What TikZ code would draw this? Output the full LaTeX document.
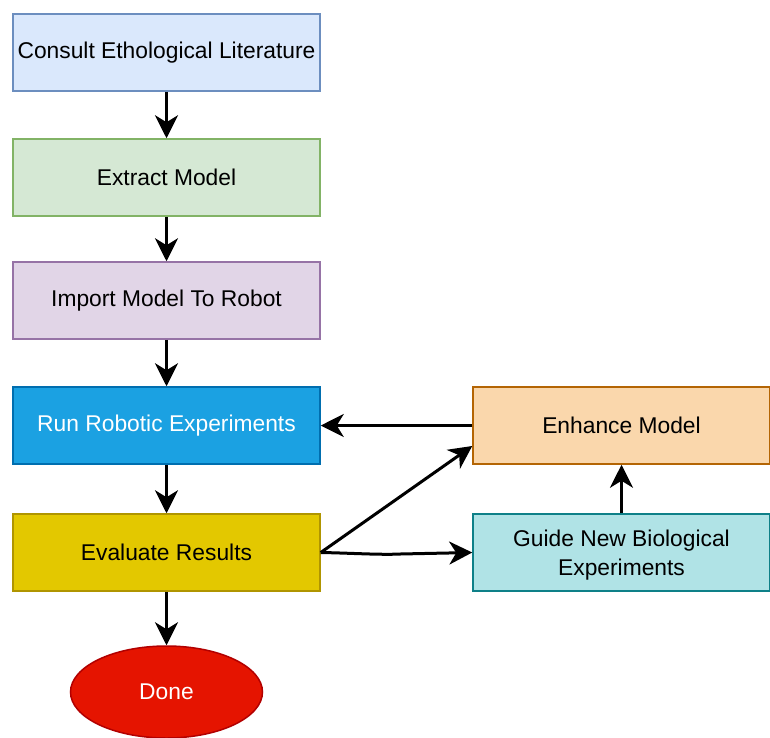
\documentclass[tikz,border=0pt]{standalone}
\usepackage{fontspec}
\setmainfont{Liberation Sans}
\usetikzlibrary{arrows.meta,shapes.geometric}
\definecolor{bluefill}{HTML}{DAE8FC}\definecolor{bluedraw}{HTML}{6C8EBF}
\definecolor{greenfill}{HTML}{D5E8D4}\definecolor{greendraw}{HTML}{82B366}
\definecolor{purplefill}{HTML}{E1D5E7}\definecolor{purpledraw}{HTML}{9673A6}
\definecolor{cyanfill}{HTML}{1BA1E2}\definecolor{cyandraw}{HTML}{006EAF}
\definecolor{yellowfill}{HTML}{E3C800}\definecolor{yellowdraw}{HTML}{B09500}
\definecolor{redfill}{HTML}{E51400}\definecolor{reddraw}{HTML}{B20000}
\definecolor{orangefill}{HTML}{FAD7AC}\definecolor{orangedraw}{HTML}{B46504}
\definecolor{tealfill}{HTML}{B0E3E6}\definecolor{tealdraw}{HTML}{0E8088}
\begin{document}
\begin{tikzpicture}[x=1pt,y=-1pt,
  box/.style={draw,line width=1.5pt,minimum width=307pt,minimum height=77pt,
    inner sep=0pt,align=center,font=\fontsize{22.8}{29}\selectfont},
  sidebox/.style={box,minimum width=297pt},
  link/.style={line width=3pt,-{Stealth[length=23pt,width=23pt,inset=7pt]}}]
\useasboundingbox (0,0) rectangle (770,737);
\node[box,fill=bluefill,draw=bluedraw] (consult) at (166.5,52.5) {Consult Ethological Literature};
\node[box,fill=greenfill,draw=greendraw] (extract) at (166.5,177.5) {Extract Model};
\node[box,fill=purplefill,draw=purpledraw] (import) at (166.5,300.5) {Import Model To Robot};
\node[box,fill=cyanfill,draw=cyandraw,text=white] (run) at (166.5,425.5) {Run Robotic Experiments};
\node[box,fill=yellowfill,draw=yellowdraw] (eval) at (166.5,552.5) {Evaluate Results};
\node[ellipse,draw=reddraw,fill=redfill,line width=1.5pt,minimum width=192pt,minimum height=92pt,
  inner sep=0pt,text=white,font=\fontsize{22.8}{29}\selectfont] (done) at (166.5,692) {Done};
\node[sidebox,fill=orangefill,draw=orangedraw] (enhance) at (621.5,425.5) {Enhance Model};
\node[sidebox,fill=tealfill,draw=tealdraw] (guide) at (621.5,552.5) {};
\node[align=center,font=\fontsize{22.8}{29}\selectfont] (guidetext) at (621.5,555) {Guide New Biological\\Experiments};
\draw[link] (consult) -- (extract);
\draw[link] (extract) -- (import);
\draw[link] (import) -- (run);
\draw[link] (run) -- (eval);
\draw[link] (eval) -- (done);
\draw[link] (enhance) -- (run);
\draw[link] (guide) -- (enhance);
\draw[link] (eval.east) -- (enhance.south west |- 0,446);
\draw[link] (eval.east) .. controls (350,553) and (380,555) .. (400,554) -- (guide.west);
\end{tikzpicture}
\end{document}
